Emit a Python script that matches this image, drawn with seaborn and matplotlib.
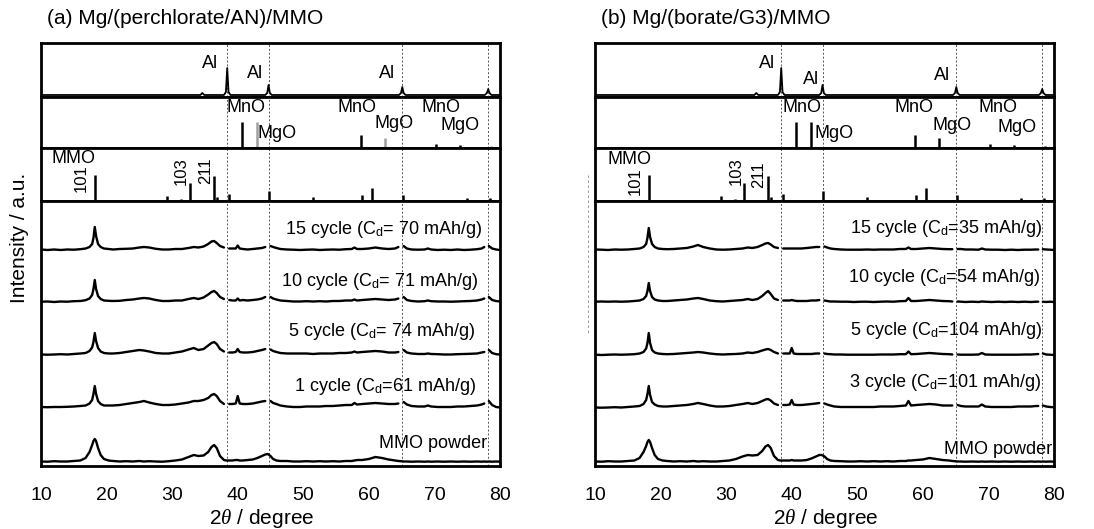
import numpy as np
import pandas as pd
import matplotlib
matplotlib.use("Agg")
import matplotlib.pyplot as plt
from matplotlib.lines import Line2D
import seaborn as sns

nan = np.nan

# ---------------------------------------------------------------- data
# common 2-theta grid of the measured patterns (degrees)
TWO_THETA = [
    10.0, 11.0, 12.0, 13.0, 14.0, 15.0, 16.0, 16.8, 17.4, 17.8,
    18.0, 18.2, 18.4, 18.7, 19.1, 19.6, 20.3, 21.0, 22.0, 23.0,
    24.0, 25.0, 25.7, 26.5, 27.5, 28.5, 29.5, 30.5, 31.5, 32.5,
    33.3, 34.0, 34.8, 35.5, 36.0, 36.4, 36.8, 37.3, 37.9, 38.3,
    38.7, 39.2, 39.7, 40.0, 40.3, 40.8, 41.5, 42.3, 43.0, 43.7,
    44.2, 44.6, 45.0, 45.4, 45.9, 46.5, 47.5, 48.5, 49.5, 50.5,
    51.5, 52.5, 53.5, 54.5, 55.5, 56.5, 57.4, 57.8, 58.2, 59.0,
    60.0, 61.0, 62.0, 63.0, 64.0, 64.5, 64.9, 65.3, 65.8, 66.5,
    67.5, 68.5, 69.0, 69.5, 70.5, 71.5, 72.5, 73.5, 74.5, 75.5,
    76.5, 77.2, 77.6, 78.0, 78.3, 78.8, 79.4, 80.0,
]

# (a) Mg/(perchlorate/AN)/MMO  -- NaN where the Al holder reflections are cut out
A_CYCLE15 = [
    0.5, 0, 0.5, 0, 0.5, 0.3, 0.8, 1.5, 3, 6,
    12, 23, 14, 6, 3, 1.5, 1, 0.5, 1, 1.2,
    1.5, 2.5, 3, 2.5, 1.2, 0.5, 0.5, 1, 1, 2,
    3, 2.5, 3.5, 6, 8.5, 9, 7, 4, 2.5, nan,
    1.5, 1.5, 1.5, 4.5, 1.5, 1, 0.5, 1, 1.5, 2,
    3, nan, 4, 3, 2, 1, 0.5, 0.3, 0, 0.3,
    0.5, 0, 0.3, 0.5, 0.3, 0.8, 1, 2.5, 1, 1,
    1.5, 2.5, 1.5, 1, 1.5, 3, nan, 4, 1.5, 0.5,
    0.3, 0.5, 1.5, 0.5, 0, 0.3, 0, 0.5, 0, 0.3,
    0.8, 1.5, 3, nan, 4, 1.5, 0.5, 0,
]
A_CYCLE10 = [
    0.3, 0.5, 0, 0.5, 0.3, 0.8, 1, 1.8, 3.5, 7,
    13, 22, 13, 6, 3, 1.5, 1.2, 1, 1.2, 2,
    2.5, 3.5, 4, 3.5, 2, 1, 1, 1.5, 1.5, 3,
    4, 3, 4.5, 7.5, 10, 11, 9, 5, 3, nan,
    2, 1.5, 1.5, 3.5, 1.5, 2, 1.5, 2, 2.5, 3.5,
    5, nan, 5, 3.5, 2.5, 1.5, 1, 0.5, 0.5, 0.8,
    0.5, 0.8, 0.5, 1, 1, 1.5, 1.5, 2.5, 1.5, 2,
    2.5, 3, 2.5, 2, 2.5, 3.5, nan, 5, 2, 1,
    0.5, 0.8, 1.5, 0.8, 0.5, 0.5, 0.3, 0.5, 0.8, 1,
    1.5, 2.5, 3.5, nan, 5, 2, 1, 0.5,
]
A_CYCLE5 = [
    0.5, 0.3, 0.5, 0.8, 0.5, 1, 1.5, 2, 4, 7.5,
    13, 22, 14, 7, 3.5, 2, 1.5, 1.5, 2, 3,
    4, 5, 4.5, 3.5, 2, 1.5, 1.5, 2.5, 3.5, 5.5,
    7, 5, 6, 9.5, 12, 13, 11, 6, 3.5, nan,
    2.5, 2.5, 3, 6, 3, 2.5, 2.5, 3, 4, 5,
    6, nan, 5.5, 4, 3, 2, 1.5, 1.5, 1.5, 1.5,
    1, 1.5, 1.5, 1.5, 2, 2, 2.5, 3.5, 2.5, 3,
    3.5, 4, 3.5, 2.5, 2.5, 3, nan, 5, 2.5, 1.5,
    1, 1, 1.5, 1, 0.8, 0.5, 0.5, 0.8, 1, 1.2,
    1.5, 2.5, 3, nan, 5, 2, 0.8, 0.5,
]
A_CYCLE1 = [
    1, 0.8, 1, 1, 1.2, 1.5, 2, 2.5, 4.5, 8,
    14, 22, 14, 7, 4, 2.5, 2.5, 2.5, 3, 4,
    5, 6, 7, 5.5, 4, 3, 3, 3.5, 4.5, 5.5,
    7, 7, 8, 10, 13, 14, 12, 7, 4, nan,
    4, 4, 4.5, 12, 4.5, 4, 4, 4.5, 5.5, 6.5,
    7, nan, 7, 5, 4, 2.5, 1.5, 1, 1, 1.5,
    1.5, 1.5, 2, 2, 2.5, 3, 3, 5, 3.5, 4,
    4.5, 5, 4.5, 4, 4, 4.5, nan, 6, 3.5, 2,
    1.5, 1.5, 2.5, 1.5, 1, 1, 1, 1.5, 1.5, 2,
    2.5, 3.5, 4.5, nan, 7, 3, 1, 0.5,
]
A_POWDER = [
    0.5, 0.3, 0.8, 0.5, 0.5, 1, 1.5, 4, 10, 17,
    21, 23, 21, 14, 7, 3, 1.5, 1, 0.5, 0.8,
    0.5, 1, 0.5, 0.8, 0.5, 0.3, 0.8, 1.5, 2.5, 5,
    7, 6, 6.5, 10, 15, 17, 14, 6, 2, 1.5,
    1.5, 1.5, 2, 2, 1.5, 1.5, 2, 2.5, 4, 6,
    7.5, 8, 6, 3, 1.5, 1, 1, 0.5, 0.5, 0.8,
    0.5, 0.8, 0.5, 0.8, 0.5, 1, 1, 1.5, 2, 2,
    3, 5, 4, 2.5, 1.5, 1, 0.8, 0.5, 0.5, 0.3,
    0.5, 0.3, 0.5, 0.3, 0.5, 0.3, 0.5, 0.3, 0.5, 0.3,
    0.5, 0.3, 0.5, 0.3, 0.5, 0.3, 0.5, 0.3,
]

# (b) Mg/(borate/G3)/MMO
B_CYCLE15 = [
    0.5, 0.3, 0, 0.5, 0.3, 0.5, 1, 1.5, 3, 6,
    12, 22, 13, 6, 3, 1.5, 1, 0.8, 1, 1.5,
    2, 3.5, 5, 3, 1.5, 0.5, 0.3, 0.5, 1, 1.5,
    2.5, 2, 3, 5, 6.5, 7, 5.5, 3, 2, nan,
    1.5, 1.5, 1.5, 1.5, 1.5, 1.5, 1.5, 2, 2.5, 3,
    3, nan, 3.5, 2.5, 1.5, 1, 0.5, 0.3, 0.3, 0.3,
    0.5, 0.3, 0.5, 0.5, 0.5, 1, 1, 2.5, 1, 1,
    1.5, 2, 1.5, 1, 0.8, 0.8, nan, 1, 1, 0.5,
    0.5, 0.3, 1.5, 0.5, 0.3, 0.3, 0, 0.3, 0, 0.3,
    0.3, 0.5, 0.5, nan, 0.8, 0.5, 0.3, 0,
]
B_CYCLE10 = [
    0.3, 0.5, 0.3, 0.5, 0.3, 0.5, 1, 1.5, 3, 6,
    11, 19, 11, 5, 2.5, 1.5, 1, 1, 1.5, 2,
    2.5, 3.5, 4, 3, 1.5, 0.8, 0.5, 1, 1.5, 2,
    3, 2, 3, 6, 9, 11, 8, 3.5, 2, nan,
    1.5, 1.5, 1.5, 2, 1.5, 1, 1, 1, 1.5, 1.5,
    2, nan, 1.5, 1, 0.5, 0.5, 0.3, 0.3, 0, 0.3,
    0.3, 0, 0.3, 0.5, 0.3, 0.8, 1, 4, 1, 1,
    1.5, 2, 1.5, 1, 0.8, 0.5, nan, 0.5, 0.3, 0,
    0.3, 0, 0.5, 0.3, 0, 0.3, 0, 0.3, 0, 0.3,
    0, 0.3, 0.3, nan, 0.3, 0, 0.3, 0,
]
B_CYCLE5 = [
    0.3, 0, 0.3, 0.5, 0.3, 0.5, 0.8, 1.5, 3, 6.5,
    12, 22, 12, 5, 2.5, 1.5, 1, 0.8, 1, 1.5,
    2, 2.5, 3, 2.5, 1.5, 0.8, 0.5, 0.8, 1, 1.5,
    2.5, 2, 3, 4.5, 5.5, 6, 5, 3, 1.5, nan,
    1.5, 1.5, 1.5, 7, 1.5, 1, 1, 1, 1, 1.5,
    1.5, nan, 1.5, 1, 0.8, 0.5, 0.5, 0.3, 0.3, 0.3,
    0.3, 0.3, 0.5, 0.5, 0.5, 0.8, 0.8, 3.5, 0.8, 1,
    1.5, 2, 1.5, 1, 0.8, 0.5, nan, 0.5, 0.3, 0.3,
    0.3, 0.5, 2, 0.5, 0.3, 0.3, 0.3, 0.3, 0.3, 0.5,
    0.5, 0.8, 1, nan, 1.5, 0.5, 0.3, 0,
]
B_CYCLE3 = [
    0.5, 0.3, 0.5, 0.8, 0.5, 1, 1.5, 2, 4, 8,
    14, 22, 13, 6, 3.5, 2, 1.5, 1.5, 2, 2.5,
    3, 4, 5, 4, 2.5, 1.5, 1.5, 2, 3, 4,
    5, 4, 5, 7, 8.5, 9, 7.5, 4.5, 3, nan,
    3, 3, 3.5, 8, 3.5, 3, 3, 3.5, 4, 4.5,
    5, nan, 4.5, 3.5, 2.5, 1.5, 1, 1, 1, 1,
    1, 1, 1.5, 1.5, 1.5, 2, 2.5, 7, 2.5, 3,
    3.5, 4, 3.5, 2.5, 2.5, 2.5, nan, 3, 2, 1.5,
    1.5, 1.5, 3.5, 1.5, 1, 1, 1, 1, 1.5, 1.5,
    1.5, 2, 2, nan, 2.5, 1.5, 1, 0.8,
]
B_POWDER = [
    0.5, 0.3, 0.8, 0.5, 0.5, 1, 1.5, 4, 10, 16,
    20, 22, 20, 14, 7, 3, 1.5, 1, 0.5, 0.8,
    0.5, 1, 0.5, 0.8, 0.5, 0.5, 1, 1.5, 3, 5.5,
    7, 6.5, 7, 11, 15.5, 17, 14, 6, 2, 1.5,
    1.5, 1.5, 1.5, 2, 1.5, 1.5, 1.5, 2, 3.5, 5.5,
    7, 7, 5.5, 3, 1.5, 1, 0.8, 0.5, 0.5, 0.8,
    0.5, 0.8, 0.5, 0.8, 0.5, 1, 1, 1.5, 1.5, 2,
    2.5, 4, 3, 2, 1.5, 1, 0.8, 0.5, 0.5, 0.3,
    0.5, 0.3, 0.5, 0.3, 0.5, 0.3, 0.5, 0.3, 0.5, 0.3,
    0.5, 0.3, 0.5, 0.3, 0.5, 0.3, 0.5, 0.3,
]

# Al current-collector pattern
AL_THETA = [10, 34.3, 34.6, 34.9, 37.9, 38.2, 38.4, 38.6, 38.9,
            44.2, 44.5, 44.7, 44.9, 45.2, 64.6, 64.9, 65.1, 65.3, 65.6,
            77.7, 78.0, 78.2, 78.4, 78.7, 80]
AL_COUNTS = [0, 0, 2, 0, 0, 3, 27, 3, 0,
             0, 2, 10, 2, 0, 0, 2, 8, 2, 0,
             0, 2, 6, 2, 0, 0]
AL_REFLECTIONS = [38.4, 44.7, 65.1, 78.2]

# reference patterns (stick positions / relative heights)
MNO_POS = [35.2, 40.6, 58.8, 70.3, 73.9]
MNO_H = [1, 26, 13, 4, 3]
MGO_POS = [42.9, 62.4, 78.7]
MGO_H = [26, 10, 2]
MMO_POS = [18.3, 29.2, 31.3, 32.7, 36.4, 36.9, 38.6, 44.8, 51.5, 54.4,
           56.7, 59.0, 60.5, 65.2, 68.4, 75.0, 77.4, 78.4]
MMO_H = [26, 5, 2, 18, 25, 4, 7, 10, 4, 1,
         1, 6, 13, 6, 1, 3, 1, 3]

TITLES = ["(a) Mg/(perchlorate/AN)/MMO", "(b) Mg/(borate/G3)/MMO"]
A_LABELS = [r"15 cycle (C$_\mathrm{d}$= 70 mAh/g)", r"10 cycle (C$_\mathrm{d}$= 71 mAh/g)",
            r"5 cycle (C$_\mathrm{d}$= 74 mAh/g)", r"1 cycle (C$_\mathrm{d}$=61 mAh/g)",
            "MMO powder"]
B_LABELS = [r"15 cycle (C$_\mathrm{d}$=35 mAh/g)", r"10 cycle (C$_\mathrm{d}$=54 mAh/g)",
            r"5 cycle (C$_\mathrm{d}$=104 mAh/g)", r"3 cycle (C$_\mathrm{d}$=101 mAh/g)",
            "MMO powder"]
XTICKS = [10, 20, 30, 40, 50, 60, 70, 80]

# ---------------------------------------------------------------- style
sns.set_style("white")
plt.rcParams["font.family"] = ["Liberation Sans", "DejaVu Sans"]
plt.rcParams["text.color"] = "black"
plt.rcParams["axes.labelcolor"] = "black"
plt.rcParams["xtick.color"] = "black"
plt.rcParams["ytick.color"] = "black"
plt.rcParams["mathtext.fontset"] = "custom"
plt.rcParams["mathtext.rm"] = "Liberation Sans"
plt.rcParams["mathtext.it"] = "Liberation Serif:italic"
plt.rcParams["mathtext.bf"] = "Liberation Sans:bold"

W, H = 1094, 529
fig = plt.figure(figsize=(W / 100, H / 100), dpi=100)


def box(left, top, width, height):
    return [left / W, 1 - (top + height) / H, width / W, height / H]


def trace_frame(x, y, offset):
    x = np.asarray(x, float)
    y = np.asarray(y, float)
    seg = np.cumsum(np.isnan(y))
    keep = ~np.isnan(y)
    return pd.DataFrame({"two_theta": x[keep], "counts": y[keep] + offset,
                         "segment": seg[keep]})


def style_axes(ax, main=False):
    ax.set_xlim(10, 80)
    ax.set_yticks([])
    ax.set_ylabel("")
    ax.set_xlabel("")
    for s in ax.spines.values():
        s.set_linewidth(2.0)
        s.set_color("black")
    if main:
        ax.set_xticks(XTICKS)
        ax.tick_params(axis="x", length=0, pad=15, labelsize=14, labelcolor="black")
    else:
        ax.set_xticks([])
    for x in AL_REFLECTIONS:
        ax.axvline(x, color="#555555", lw=0.7, ls=(0, (2, 2)), zorder=0)


ROWS = [(42.5, 54), (96.5, 51.5), (148, 53), (201, 265)]
LEFTS = [41, 595]
WIDTH = 459
OFFSETS = [216, 164, 111, 58, 4]

panels = [
    dict(traces=[A_CYCLE15, A_CYCLE10, A_CYCLE5, A_CYCLE1, A_POWDER],
         labels=A_LABELS,
         label_xy=[(77.3, 232), (76.6, 180), (76.2, 130), (76.3, 75), (78.0, 18)],
         mgo_color="#a0a0a0",
         al_text=[(35.8, 32), (42.6, 22), (62.8, 22)],
         mno_text=[(41.2, 41), (58.2, 41), (71.0, 41)],
         mgo_text=[(46.0, 15), (63.8, 24), (73.9, 22)],
         mmo_text=(14.9, 43), hkl=[(16.2, 23), (31.4, 30), (35.1, 30)],
         xlabel_x=262),
    dict(traces=[B_CYCLE15, B_CYCLE10, B_CYCLE5, B_CYCLE3, B_POWDER],
         labels=B_LABELS,
         label_xy=[(78.2, 233), (77.9, 184), (78.2, 131), (78.0, 79), (79.7, 12)],
         mgo_color="black",
         al_text=[(36.2, 32), (43.0, 16), (62.9, 20)],
         mno_text=[(41.6, 40), (58.6, 40), (71.5, 40)],
         mgo_text=[(46.5, 15), (64.4, 23), (74.4, 21)],
         mmo_text=(15.3, 42), hkl=[(16.2, 19.5), (31.6, 29.5), (35.0, 26)],
         xlabel_x=826),
]

HKL = ["101", "103", "211"]

for p, left, title in zip(panels, LEFTS, TITLES):
    ax_al, ax_ox, ax_mmo, ax_main = [fig.add_axes(box(left, t, WIDTH, h)) for t, h in ROWS]

    # Al pattern
    sns.lineplot(data=trace_frame(AL_THETA, AL_COUNTS, 0), x="two_theta", y="counts",
                 estimator=None, color="black", lw=1.3, ax=ax_al)
    ax_al.set_ylim(-1.5, 52.5)
    for (x, y) in p["al_text"]:
        ax_al.text(x, y, "Al", ha="center", va="center", fontsize=13)

    # MnO / MgO sticks
    ax_ox.vlines(MNO_POS, 0, MNO_H, color="black", lw=1.8)
    ax_ox.vlines(MGO_POS, 0, MGO_H, color=p["mgo_color"], lw=1.8)
    ax_ox.set_ylim(0, 51.5)
    for (x, y) in p["mno_text"]:
        ax_ox.text(x, y, "MnO", ha="center", va="center", fontsize=13)
    for (x, y) in p["mgo_text"]:
        ax_ox.text(x, y, "MgO", ha="center", va="center", fontsize=13)

    # MMO reference sticks
    ax_mmo.vlines(MMO_POS, 0, MMO_H, color="black", lw=1.8)
    ax_mmo.set_ylim(0, 53)
    ax_mmo.text(*p["mmo_text"], "MMO", ha="center", va="center", fontsize=13)
    for (x, y), s in zip(p["hkl"], HKL):
        ax_mmo.text(x, y, s, ha="center", va="center", rotation=90, fontsize=12)

    # stacked patterns
    frames = [trace_frame(TWO_THETA, tr, off) for tr, off in zip(p["traces"], OFFSETS)]
    for df in frames:
        sns.lineplot(data=df, x="two_theta", y="counts", units="segment",
                     estimator=None, color="black", lw=1.7, ax=ax_main)
    ax_main.set_ylim(0, 265)
    for (x, y), s in zip(p["label_xy"], p["labels"]):
        ax_main.text(x, y, s, ha="right", va="baseline", fontsize=13)

    for ax, is_main in zip([ax_al, ax_ox, ax_mmo, ax_main], [False, False, False, True]):
        style_axes(ax, is_main)

    fig.text((left + 6) / W, 1 - 18 / H, title, ha="left", va="center", fontsize=15)
    fig.text(p["xlabel_x"] / W, 1 - 518 / H, r"2$\theta$ / degree",
             ha="center", va="center", fontsize=15)

fig.text(20 / W, 1 - 238 / H, "Intensity / a.u.", rotation=90,
         ha="center", va="center", fontsize=15)

# faint dashed rule left of the second panel
fig.add_artist(Line2D([588 / W, 588 / W], [1 - 175 / H, 1 - 333 / H],
                      transform=fig.transFigure, color="#888888", lw=0.6,
                      ls=(0, (3, 3))))

fig.savefig("out.png", dpi=100)
